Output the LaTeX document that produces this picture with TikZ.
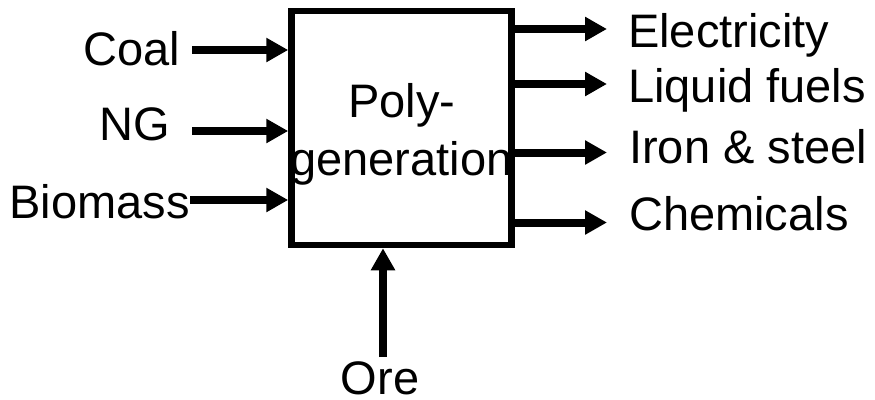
\documentclass[tikz,border=0pt]{standalone}
\usepackage{fontspec}
\setmainfont{Liberation Sans}
\usetikzlibrary{arrows.meta}
\begin{document}
\begin{tikzpicture}[x=1pt,y=-1pt,
  lbl/.style={inner sep=0pt, font=\fontsize{47}{50}\selectfont},
  arr/.style={line width=8pt, -{Triangle[length=22pt,width=23pt]}},
  boxst/.style={draw, line width=6.5pt, inner sep=0pt, minimum width=220pt, minimum height=234pt}]
\useasboundingbox (0,0) rectangle (875,399);
\node[boxst] (box) at (401.5,128) {};
\node[lbl, anchor=base] (poly) at (402,117) {Poly-};
\node[lbl, anchor=base] (gen) at (401.5,175) {generation};
% inputs
\node[lbl, anchor=base east] (coal) at (180,65) {Coal};
\node[lbl, anchor=base east] (ng) at (170,140) {NG};
\node[lbl, anchor=base east] (bio) at (190,218) {Biomass};
\coordinate (cin) at (192,50);
\coordinate (nin) at (192,131);
\coordinate (bin) at (190,200);
\draw[arr] (cin) -- (cin -| box.west);
\draw[arr] (nin) -- (nin -| box.west);
\draw[arr] (bin) -- (bin -| box.west);
% outputs
\node[lbl, anchor=base west] (elec) at (628,47) {Electricity};
\node[lbl, anchor=base west] (liq) at (628,102) {Liquid fuels};
\node[lbl, anchor=base west] (iron) at (629,163) {Iron \& steel};
\node[lbl, anchor=base west] (chem) at (629,230) {Chemicals};
\coordinate (eo) at (607,29);
\coordinate (lo) at (607,84);
\coordinate (io) at (607,152.5);
\coordinate (co) at (607,222.5);
\draw[arr] (eo -| box.east) -- (eo);
\draw[arr] (lo -| box.east) -- (lo);
\draw[arr] (io -| box.east) -- (io);
\draw[arr] (co -| box.east) -- (co);
% ore
\node[lbl, anchor=base] (ore) at (380,394) {Ore};
\coordinate (ob) at (383,357);
\draw[arr] (ob) -- (ob |- box.south);
\end{tikzpicture}
\end{document}
